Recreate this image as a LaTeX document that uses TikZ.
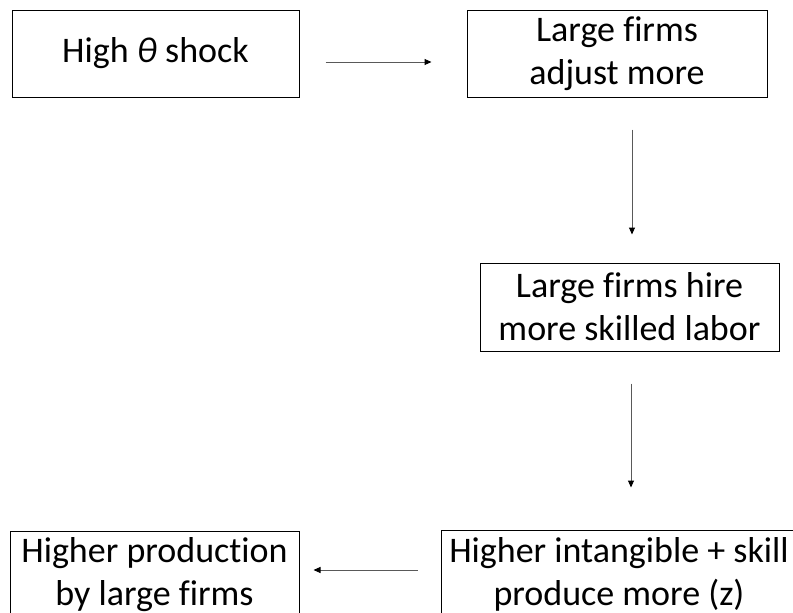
\documentclass[tikz,border=0pt]{standalone}
\usepackage{fontspec}
\setmainfont{Carlito}[Ligatures=CommonOff]
\usetikzlibrary{arrows.meta}
\begin{document}
\begin{tikzpicture}[x=1pt,y=1pt,
  box/.style={draw=black,line width=1pt,align=center,inner sep=0pt,
    font=\fontsize{36}{43}\selectfont},
  arr/.style={draw=black!65,line width=1pt,-{Triangle[length=7pt,width=6pt,color=black]}}]
\useasboundingbox (0,0) rectangle (793,-613);
\node[box,minimum width=287pt,minimum height=87pt] (b1) at (155.5,-53.5) {High {\itshape θ} shock};
\node[box,minimum width=300pt,minimum height=87pt] (b2) at (617,-53.5) {Large firms\\adjust more};
\node[box,minimum width=299pt,minimum height=88pt] (b3) at (629.5,-307) {Large firms hire\\more skilled labor};
\node[box,minimum width=356pt,minimum height=88pt] (b5) at (619,-574) {Higher intangible + skill\\produce more (z)};
\node[box,minimum width=289pt,minimum height=88pt] (b4) at (154.5,-575) {Higher production\\by large firms};
\draw[arr,shorten <=26pt,shorten >=35pt] ([yshift=-8.5pt]b1.east) -- ([yshift=-8.5pt]b2.west);
\draw[arr,shorten <=32pt,shorten >=28pt] ([xshift=15pt]b2.south) -- ([xshift=15pt]b2.south |- b3.north);
\draw[arr,shorten <=32pt,shorten >=42pt] ([xshift=1.5pt]b3.south) -- ([xshift=1.5pt]b3.south |- b5.north);
\draw[arr,shorten <=23pt,shorten >=14pt] ([yshift=4pt]b5.west) -- ([yshift=4pt]b5.west -| b4.east);
\end{tikzpicture}
\end{document}
